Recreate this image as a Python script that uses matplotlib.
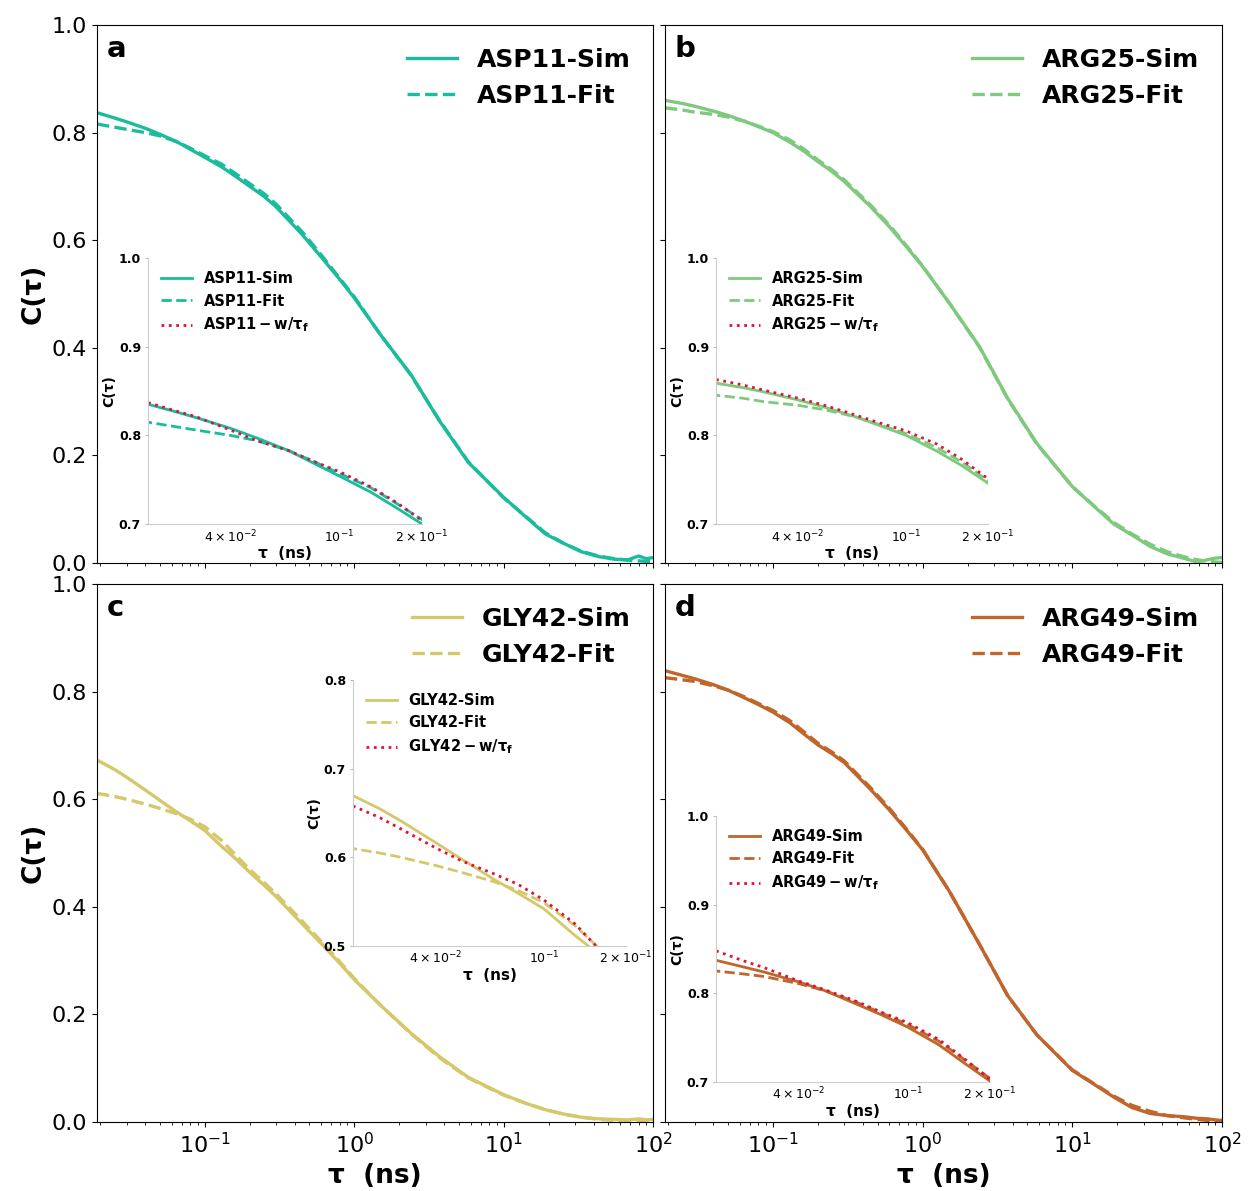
import matplotlib
matplotlib.use("Agg")
import matplotlib.pyplot as plt
from matplotlib.ticker import NullLocator, FixedLocator, FixedFormatter

# tau grid (ns) shared by the Sim / Fit curves
tau = [0.019, 0.025, 0.03, 0.04, 0.05, 0.065, 0.08, 0.1, 0.13, 0.16, 0.2,
       0.25, 0.3, 0.45, 0.6, 0.8, 1.0, 1.5, 2.4, 3.7, 5.8, 10, 14, 19, 25, 33,
       43, 55, 68, 80, 90, 100]

# tau grid for the w/tau_f curves (inset only)
tau_inset = [0.02, 0.025, 0.03, 0.04, 0.05, 0.065, 0.08, 0.1, 0.13, 0.16, 0.2]

residues = ["ASP11", "ARG25", "GLY42", "ARG49"]
panel_letters = ["a", "b", "c", "d"]
colors = ["#1abc9c", "#7fc97f", "#d4c86a", "#c0652b"]

asp11_sim = [0.837, 0.827, 0.820, 0.808, 0.797, 0.783, 0.769, 0.754, 0.736, 0.719, 0.700,
             0.681, 0.662, 0.610, 0.569, 0.527, 0.493, 0.424, 0.350, 0.265, 0.187, 0.122,
             0.086, 0.054, 0.037, 0.021, 0.012, 0.007, 0.006, 0.013, 0.008, 0.010]
asp11_fit = [0.816, 0.810, 0.806, 0.800, 0.794, 0.783, 0.771, 0.757, 0.741, 0.724, 0.705,
             0.686, 0.667, 0.615, 0.573, 0.529, 0.495, 0.424, 0.349, 0.266, 0.188, 0.121,
             0.087, 0.056, 0.037, 0.022, 0.013, 0.008, 0.005, 0.004, 0.003, 0.003]
asp11_wtf = [0.837, 0.828, 0.821, 0.806, 0.794, 0.783, 0.771, 0.759, 0.742, 0.725, 0.704]

arg25_sim = [0.860, 0.854, 0.849, 0.840, 0.832, 0.821, 0.811, 0.800, 0.782, 0.766, 0.746,
             0.727, 0.709, 0.662, 0.625, 0.584, 0.551, 0.484, 0.402, 0.306, 0.222, 0.142,
             0.105, 0.072, 0.052, 0.031, 0.017, 0.009, 0.002, 0.006, 0.009, 0.010]
arg25_fit = [0.846, 0.842, 0.838, 0.834, 0.829, 0.821, 0.812, 0.802, 0.786, 0.770, 0.749,
             0.730, 0.712, 0.665, 0.628, 0.586, 0.552, 0.484, 0.401, 0.305, 0.221, 0.142,
             0.106, 0.075, 0.054, 0.035, 0.021, 0.012, 0.006, 0.003, 0.002, 0.001]
arg25_wtf = [0.863, 0.857, 0.851, 0.842, 0.834, 0.823, 0.814, 0.805, 0.790, 0.773, 0.751]

gly42_sim = [0.673, 0.655, 0.641, 0.617, 0.598, 0.576, 0.560, 0.542, 0.512, 0.490, 0.464,
             0.440, 0.419, 0.368, 0.332, 0.295, 0.265, 0.217, 0.165, 0.122, 0.083, 0.051,
             0.035, 0.023, 0.015, 0.009, 0.006, 0.005, 0.004, 0.006, 0.004, 0.005]
gly42_fit = [0.611, 0.605, 0.600, 0.591, 0.583, 0.573, 0.563, 0.549, 0.523, 0.497, 0.469,
             0.445, 0.424, 0.373, 0.336, 0.298, 0.267, 0.217, 0.164, 0.120, 0.082, 0.050,
             0.035, 0.023, 0.015, 0.009, 0.005, 0.003, 0.002, 0.001, 0.001, 0.001]
gly42_wtf = [0.658, 0.645, 0.632, 0.611, 0.596, 0.582, 0.570, 0.552, 0.525, 0.496, 0.462]

arg49_sim = [0.839, 0.830, 0.824, 0.813, 0.803, 0.788, 0.776, 0.762, 0.742, 0.722, 0.701,
             0.684, 0.668, 0.618, 0.580, 0.539, 0.506, 0.430, 0.330, 0.235, 0.162, 0.096,
             0.070, 0.046, 0.027, 0.016, 0.012, 0.010, 0.007, 0.006, 0.004, 0.003]
arg49_fit = [0.826, 0.822, 0.819, 0.811, 0.803, 0.790, 0.778, 0.765, 0.746, 0.726, 0.704,
             0.687, 0.671, 0.621, 0.583, 0.541, 0.507, 0.430, 0.330, 0.235, 0.162, 0.097,
             0.071, 0.048, 0.031, 0.020, 0.012, 0.008, 0.005, 0.003, 0.002, 0.002]
arg49_wtf = [0.848, 0.837, 0.829, 0.814, 0.804, 0.791, 0.779, 0.767, 0.748, 0.727, 0.703]

sim_data = [asp11_sim, arg25_sim, gly42_sim, arg49_sim]
fit_data = [asp11_fit, arg25_fit, gly42_fit, arg49_fit]
wtf_data = [asp11_wtf, arg25_wtf, gly42_wtf, arg49_wtf]

# inset y-ranges
inset_ylims = [(0.7, 1.0), (0.7, 1.0), (0.5, 0.8), (0.7, 1.0)]


def draw_inset(fig, rect, i):
    ax_in = fig.add_axes(rect)
    ax_in.patch.set_alpha(0)
    name = residues[i]
    ax_in.plot(tau, sim_data[i], color=colors[i], lw=2, label=name + "-Sim")
    ax_in.plot(tau, fit_data[i], color=colors[i], lw=2, ls="--", label=name + "-Fit")
    ax_in.plot(tau_inset, wtf_data[i], color="crimson", lw=2, ls=":",
               label=r"$\mathbf{" + name + r"-w/\tau_f}$")
    ax_in.set_xscale("log")
    ax_in.set_xlim(0.02, 0.2)
    ax_in.set_ylim(*inset_ylims[i])
    lo, hi = inset_ylims[i]
    yt = [lo, lo + 0.1, lo + 0.2, hi]
    ax_in.set_yticks(yt)
    ax_in.set_yticklabels(["%.1f" % v for v in yt], fontsize=9, fontweight="bold")
    ax_in.xaxis.set_major_locator(FixedLocator([0.04, 0.1, 0.2]))
    ax_in.xaxis.set_major_formatter(FixedFormatter(
        [r"$4\times10^{-2}$", r"$10^{-1}$", r"$2\times10^{-1}$"]))
    ax_in.xaxis.set_minor_locator(NullLocator())
    ax_in.tick_params(axis="x", labelsize=9, length=0, pad=3)
    ax_in.tick_params(axis="y", length=2, pad=3)
    ax_in.tick_params(colors="#bbbbbb", labelcolor="black")
    for side in ["top", "right"]:
        ax_in.spines[side].set_visible(False)
    for side in ["left", "bottom"]:
        ax_in.spines[side].set_color("#cccccc")
    ax_in.set_xlabel("τ  (ns)", fontsize=11, fontweight="bold", labelpad=1)
    ax_in.set_ylabel("C(τ)", fontsize=10, fontweight="bold", labelpad=2)
    ax_in.legend(loc="upper left", frameon=False, handlelength=2.1,
                 prop={"size": 10.5, "weight": "bold"})


def main():
    fig = plt.figure(figsize=(12.49, 11.91), dpi=100)

    # main axes rectangles (a, b, c, d)
    rects = [[0.0777, 0.5273, 0.4452, 0.4517],
             [0.5324, 0.5273, 0.4460, 0.4517],
             [0.0777, 0.0579, 0.4452, 0.4517],
             [0.5324, 0.0579, 0.4460, 0.4517]]
    inset_rects = [[0.1185, 0.5600, 0.2194, 0.2233],
                   [0.5733, 0.5600, 0.2178, 0.2233],
                   [0.2826, 0.2057, 0.2186, 0.2233],
                   [0.5733, 0.0915, 0.2194, 0.2233]]

    for i in range(4):
        ax = fig.add_axes(rects[i])
        name = residues[i]
        ax.plot(tau, sim_data[i], color=colors[i], lw=2.4, label=name + "-Sim")
        ax.plot(tau, fit_data[i], color=colors[i], lw=2.4, ls="--", label=name + "-Fit")
        ax.set_xscale("log")
        ax.set_xlim(0.019, 100)
        ax.set_ylim(0, 1.0)
        ax.set_yticks([0, 0.2, 0.4, 0.6, 0.8, 1.0])
        ax.tick_params(labelsize=16)
        if i % 2 == 1:
            ax.set_yticklabels([])
        else:
            ax.set_ylabel("C(τ)", fontsize=19, fontweight="bold")
        if i < 2:
            ax.set_xticklabels([])
        else:
            ax.set_xlabel("τ  (ns)", fontsize=19, fontweight="bold")
        ax.text(0.018, 0.94, panel_letters[i], transform=ax.transAxes,
                fontsize=21, fontweight="bold", va="baseline", ha="left")
        ax.legend(loc="upper right", frameon=False,
                  prop={"size": 18, "weight": "bold"})

        draw_inset(fig, inset_rects[i], i)

    plt.savefig("out.png", dpi=100)


if __name__ == "__main__":
    main()
